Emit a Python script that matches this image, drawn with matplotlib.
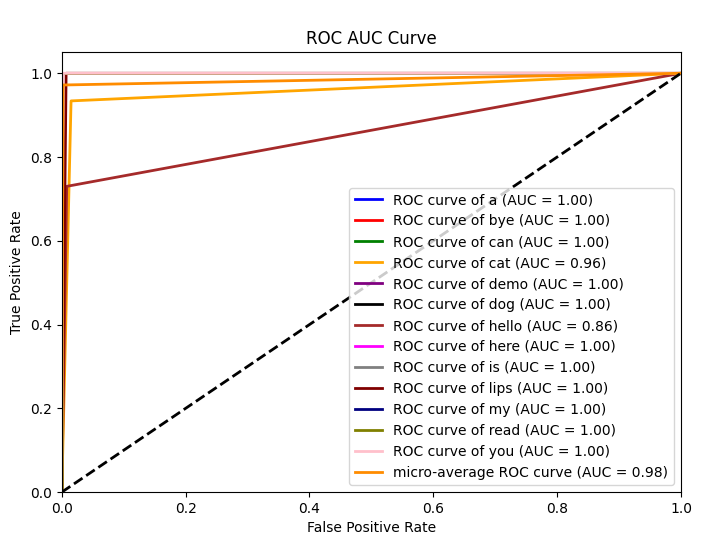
import matplotlib
matplotlib.use('Agg')
import matplotlib.pyplot as plt

classes = ['a', 'bye', 'can', 'cat', 'demo', 'dog', 'hello', 'here', 'is', 'lips', 'my', 'read', 'you']
colors = ['blue', 'red', 'green', 'orange', 'purple', 'black', 'brown', 'magenta', 'gray', 'maroon', 'navy', 'olive', 'pink']
fpr = [[0, 0, 1], [0, 0, 1], [0, 0, 1], [0, 0.015, 1], [0, 0, 1], [0, 0, 1], [0, 0.008, 1],
       [0, 0, 1], [0, 0, 1], [0, 0.007, 1], [0, 0, 1], [0, 0, 1], [0, 0.002, 1]]
tpr = [[0, 1, 1], [0, 1, 1], [0, 1, 1], [0, 0.934, 1], [0, 1, 1], [0, 1, 1], [0, 0.73, 1],
       [0, 1, 1], [0, 1, 1], [0, 1, 1], [0, 1, 1], [0, 1, 1], [0, 1, 1]]
aucs = [1.00, 1.00, 1.00, 0.96, 1.00, 1.00, 0.86, 1.00, 1.00, 1.00, 1.00, 1.00, 1.00]
micro_fpr = [0, 0.002, 1]
micro_tpr = [0, 0.972, 1]
micro_auc = 0.98

fig = plt.figure(figsize=(7.02, 5.45), dpi=100)
ax = fig.add_axes([0.088, 0.097, 0.882, 0.807])
for c, col, f, t, a in zip(classes, colors, fpr, tpr, aucs):
    ax.plot(f, t, color=col, lw=2, label='ROC curve of %s (AUC = %.2f)' % (c, a))
ax.plot(micro_fpr, micro_tpr, color='darkorange', lw=2, label='micro-average ROC curve (AUC = %.2f)' % micro_auc)
ax.plot([0, 1], [0, 1], 'k--', lw=2)
ax.set_xlim(0, 1)
ax.set_ylim(0, 1.05)
ax.set_xlabel('False Positive Rate')
ax.set_ylabel('True Positive Rate')
ax.set_title('ROC AUC Curve')
ax.legend(loc='lower right')
fig.savefig('out.png')
